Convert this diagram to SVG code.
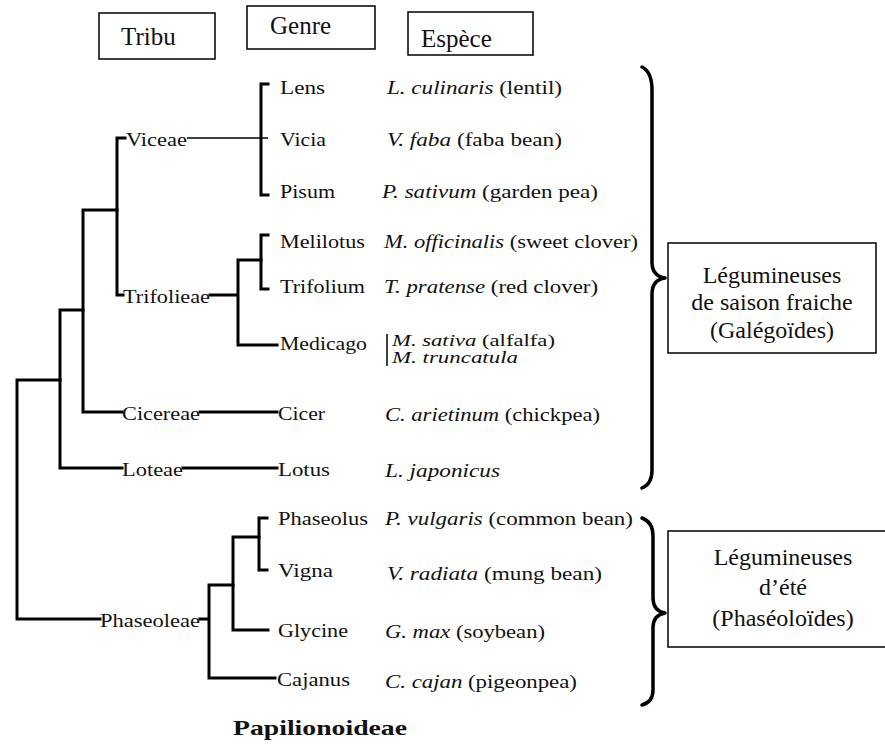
<svg xmlns="http://www.w3.org/2000/svg" width="885" height="748" viewBox="0 0 885 748">
<style>
text { font-family: "Liberation Serif", "Times New Roman", serif; fill: #111; }
.hdr { font-size: 25px; }
.box { fill: #fff; stroke: #000; stroke-width: 1.5; }
.t { font-size: 18px; }
.sp { font-size: 18px; }
.sm { font-size: 16px; }
.it { font-style: italic; }
.br { font-size: 24px; }
.ln { fill: none; stroke: #000; stroke-width: 3; stroke-linecap: square; }
.thin { fill: none; stroke: #000; stroke-width: 1.5; }
.brace { fill: none; stroke: #000; stroke-width: 3.5; stroke-linecap: round; stroke-linejoin: round; }
</style>

<g id="header-tribu"><rect class="box" x="99" y="13" width="116" height="46"/><text class="hdr" x="121" y="45">Tribu</text></g>
<g id="header-genre"><rect class="box" x="247" y="6" width="128" height="43"/><text class="hdr" x="270" y="34">Genre</text></g>
<g id="header-espece"><rect class="box" x="408" y="12" width="125" height="43"/><text class="hdr" x="421" y="47">Espèce</text></g>

<g id="connectors">
<path class="ln" d="M17,380 V619 M17,380 H60 M17,619 H100"/>
<path class="ln" d="M60,310 V468 M60,310 H83 M60,468 H122"/>
<path class="ln" d="M83,210 V412 M83,210 H117 M83,412 H122"/>
<path class="ln" d="M117,138 V295 M117,138 H125 M117,295 H123"/>
<path class="thin" d="M187,138 H268"/>
<path class="ln" d="M261,84 V195 M261,84 H268 M261,195 H268"/>
<path class="ln" d="M210,295 H238 M238,260 V345 M238,260 H261 M238,345 H277"/>
<path class="ln" d="M261,235 V289 M261,235 H268 M261,289 H268"/>
<path class="ln" d="M200,412 H277"/>
<path class="ln" d="M183,468 H277"/>
<path class="ln" d="M200,619 H209 M209,585 V678 M209,585 H233 M209,678 H275"/>
<path class="ln" d="M233,537 V630 M233,537 H259 M233,630 H268"/>
<path class="ln" d="M259,518 V570 M259,518 H267 M259,570 H267"/>
<path class="thin" d="M387,334 V366"/>
</g>

<g id="tribes">
<text class="t" x="126" y="146" textLength="61" lengthAdjust="spacingAndGlyphs">Viceae</text>
<text class="t" x="123" y="303" textLength="87" lengthAdjust="spacingAndGlyphs">Trifolieae</text>
<text class="t" x="122" y="420" textLength="78" lengthAdjust="spacingAndGlyphs">Cicereae</text>
<text class="t" x="122" y="476" textLength="61" lengthAdjust="spacingAndGlyphs">Loteae</text>
<text class="t" x="100" y="627" textLength="100" lengthAdjust="spacingAndGlyphs">Phaseoleae</text>
</g>

<g id="genera">
<text class="t" x="280" y="94" textLength="45" lengthAdjust="spacingAndGlyphs">Lens</text>
<text class="t" x="280" y="146" textLength="46" lengthAdjust="spacingAndGlyphs">Vicia</text>
<text class="t" x="280" y="198" textLength="55" lengthAdjust="spacingAndGlyphs">Pisum</text>
<text class="t" x="280" y="248" textLength="85" lengthAdjust="spacingAndGlyphs">Melilotus</text>
<text class="t" x="280" y="293" textLength="85" lengthAdjust="spacingAndGlyphs">Trifolium</text>
<text class="t" x="280" y="350" textLength="87" lengthAdjust="spacingAndGlyphs">Medicago</text>
<text class="t" x="278" y="420" textLength="47" lengthAdjust="spacingAndGlyphs">Cicer</text>
<text class="t" x="278" y="476" textLength="52" lengthAdjust="spacingAndGlyphs">Lotus</text>
<text class="t" x="278" y="525" textLength="90" lengthAdjust="spacingAndGlyphs">Phaseolus</text>
<text class="t" x="278" y="577" textLength="55" lengthAdjust="spacingAndGlyphs">Vigna</text>
<text class="t" x="278" y="637" textLength="70" lengthAdjust="spacingAndGlyphs">Glycine</text>
<text class="t" x="277" y="686" textLength="73" lengthAdjust="spacingAndGlyphs">Cajanus</text>
</g>

<g id="species">
<text class="sp" x="387" y="94" textLength="175" lengthAdjust="spacingAndGlyphs"><tspan class="it">L. culinaris</tspan> (lentil)</text>
<text class="sp" x="387" y="146" textLength="175" lengthAdjust="spacingAndGlyphs"><tspan class="it">V. faba</tspan> (faba bean)</text>
<text class="sp" x="382" y="198" textLength="216" lengthAdjust="spacingAndGlyphs"><tspan class="it">P. sativum</tspan> (garden pea)</text>
<text class="sp" x="384" y="248" textLength="254" lengthAdjust="spacingAndGlyphs"><tspan class="it">M. officinalis</tspan> (sweet clover)</text>
<text class="sp" x="384" y="293" textLength="214" lengthAdjust="spacingAndGlyphs"><tspan class="it">T. pratense</tspan> (red clover)</text>
<text class="sm" x="392" y="346" textLength="163" lengthAdjust="spacingAndGlyphs"><tspan class="it">M. sativa</tspan> (alfalfa)</text>
<text class="sm it" x="392" y="363" textLength="126" lengthAdjust="spacingAndGlyphs">M. truncatula</text>
<text class="sp" x="385" y="421" textLength="215" lengthAdjust="spacingAndGlyphs"><tspan class="it">C. arietinum</tspan> (chickpea)</text>
<text class="sp it" x="385" y="477" textLength="115" lengthAdjust="spacingAndGlyphs">L. japonicus</text>
<text class="sp" x="385" y="525" textLength="248" lengthAdjust="spacingAndGlyphs"><tspan class="it">P. vulgaris</tspan> (common bean)</text>
<text class="sp" x="387" y="580" textLength="215" lengthAdjust="spacingAndGlyphs"><tspan class="it">V. radiata</tspan> (mung bean)</text>
<text class="sp" x="385" y="638" textLength="160" lengthAdjust="spacingAndGlyphs"><tspan class="it">G. max</tspan> (soybean)</text>
<text class="sp" x="385" y="688" textLength="192" lengthAdjust="spacingAndGlyphs"><tspan class="it">C. cajan</tspan> (pigeonpea)</text>
</g>

<g id="brace-cool">
<path class="brace" d="M642,67 Q652,72 652,90 V262 Q652,276 665,278 Q652,280 652,294 V470 Q652,484 642,488"/>
</g>
<g id="brace-warm">
<path class="brace" d="M642,518 Q653,522 653,536 V598 Q653,611 665,613 Q653,615 653,628 V690 Q653,702 642,705"/>
</g>

<g id="group-cool">
<rect class="box" x="668" y="243" width="208" height="110"/>
<text class="br" x="772" y="283" text-anchor="middle">Légumineuses</text>
<text class="br" x="772" y="310" text-anchor="middle">de saison fraiche</text>
<text class="br" x="772" y="338" text-anchor="middle">(Galégoïdes)</text>
</g>
<g id="group-warm">
<rect class="box" x="668" y="531" width="230" height="116"/>
<text class="br" x="783" y="565" text-anchor="middle">Légumineuses</text>
<text class="br" x="783" y="595" text-anchor="middle">d’été</text>
<text class="br" x="783" y="626" text-anchor="middle">(Phaséoloïdes)</text>
</g>

<g id="title">
<text x="233" y="735" font-size="22" font-weight="bold" textLength="174" lengthAdjust="spacingAndGlyphs">Papilionoideae</text>
</g>
</svg>
